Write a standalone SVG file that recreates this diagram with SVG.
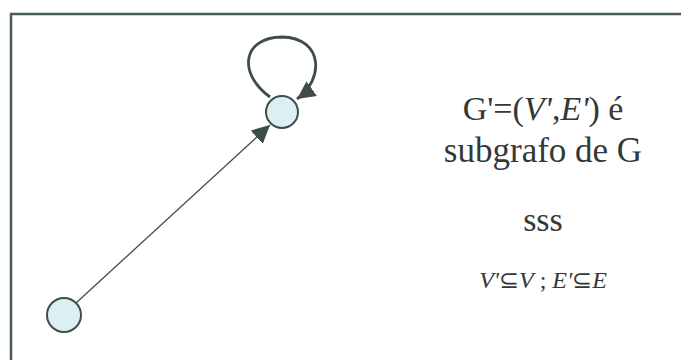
<svg xmlns="http://www.w3.org/2000/svg" width="681" height="360" viewBox="0 0 681 360">
<style>
.node{fill:#dcf0f4;stroke:#3e4d4a;stroke-width:2}
.edge{fill:none;stroke:#3e4d4a;stroke-width:1.3}
.loop{fill:none;stroke:#3e4d4a;stroke-width:2.8}
.t{font-family:"Liberation Serif","Times New Roman",serif;fill:#333837;text-anchor:middle}
</style>
<defs>
<marker id="ah" viewBox="0 0 10 10" refX="10" refY="5" markerWidth="18" markerHeight="18" markerUnits="userSpaceOnUse" orient="auto">
<path d="M0,0 L10,5 L0,10 z" fill="#3e4d4a"/>
</marker>
</defs>
<rect width="681" height="360" fill="#ffffff"/>
<rect x="11" y="14" width="700" height="400" fill="none" stroke="#4a5e58" stroke-width="2.5"/>
<g id="connectors">
<line class="edge" x1="76" y1="303" x2="270" y2="125" marker-end="url(#ah)"/>
<path class="loop" d="M270,97 C236,72 244,37 282,37 C324,38 324,80 297,99" marker-end="url(#ah)"/>
</g>
<g id="node-a"><circle class="node" cx="282" cy="112" r="16"/></g>
<g id="node-b"><circle class="node" cx="64" cy="315" r="17"/></g>
<g id="label">
<text class="t" x="543" y="120" font-size="34">G'=(<tspan font-style="italic">V'</tspan>,<tspan font-style="italic">E'</tspan>) é</text>
<text class="t" x="543" y="162" font-size="35">subgrafo de G</text>
<text class="t" x="543" y="231" font-size="34">sss</text>
<text class="t" x="543" y="288" font-size="24"><tspan font-style="italic">V'</tspan>⊆<tspan font-style="italic">V</tspan> ; <tspan font-style="italic">E'</tspan>⊆<tspan font-style="italic">E</tspan></text>
</g>
</svg>
